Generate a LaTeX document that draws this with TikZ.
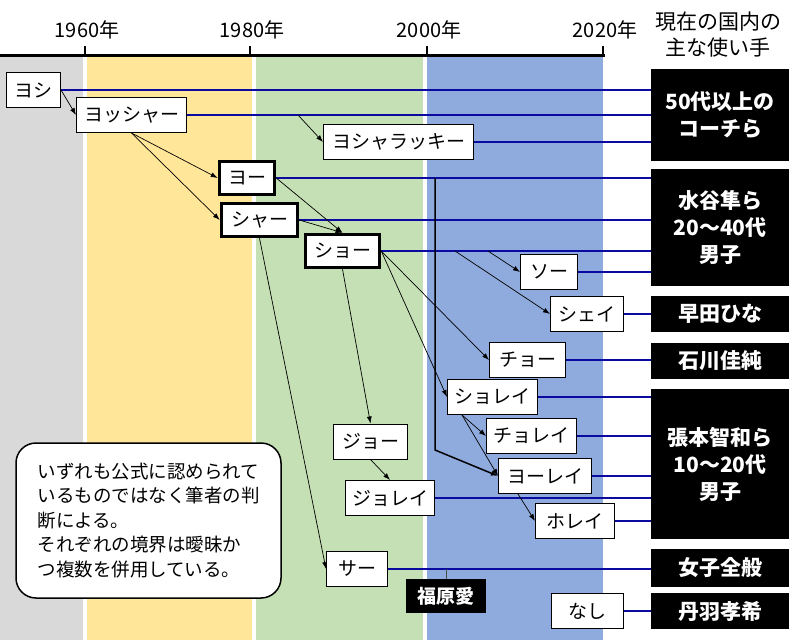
\documentclass[tikz,border=0pt]{standalone}
\usepackage{fontspec}
\setmainfont{Noto Sans CJK JP}
\usetikzlibrary{arrows.meta}
\definecolor{bandgray}{HTML}{D9D9D9}
\definecolor{bandgold}{HTML}{FFE699}
\definecolor{bandgreen}{HTML}{C5E0B4}
\definecolor{bandblue}{HTML}{8FAADC}
\definecolor{linkblue}{HTML}{0A0AA0}
\begin{document}
\begin{tikzpicture}
[x=1pt,y=-1pt,
  namedecorate/.style={shape=rectangle,draw,fill=white,line width=1pt,minimum height=35pt,inner xsep=6pt,font=\fontsize{19}{23}\selectfont},
  keydecorate/.style={namedecorate,line width=3.5pt,minimum height=33pt},
  userdecorate/.style={shape=rectangle,fill=black,text=white,minimum width=138pt,align=center,font=\bfseries\fontsize{21}{27}\selectfont},
  notedecorate/.style={shape=rectangle,draw,fill=white,line width=1.5pt,rounded corners=20pt,minimum width=265pt,minimum height=155pt,align=left,font=\fontsize{18.5}{24.5}\selectfont},
  yeardecorate/.style={font=\fontsize{20}{24}\selectfont},
  linedecorate/.style={-{Latex[length=7pt,width=5pt]},line width=0.7pt},
  bluedecorate/.style={-,linkblue,line width=2pt}]
\useasboundingbox[fill=white] (0,0) rectangle (800,640);
%% eras
\fill[bandgray] (0,57) rectangle (83,640);
\fill[bandgold] (87,57) rectangle (252,640);
\fill[bandgreen] (256,57) rectangle (423,640);
\fill[bandblue] (427,57) rectangle (603,640);
%% time axis
\draw[line width=3pt] (0,55) -- (605,55);
\foreach \yr/\x in {1960/85, 1980/250, 2000/427, 2020/603} {
  \node (y\yr) at (\x+2,30) [yeardecorate] {\yr 年};
  \draw[line width=2.5pt] (\x,46) -- (\x,55);
}
\node (usertitle) at (718,35) [align=center,font=\fontsize{21}{26}\selectfont] {現在の国内の\\主な使い手};
%% players of today
\node (coach) at (720,115) [userdecorate,minimum height=92pt] {50代以上の\\コーチら};
\node (mizutani) at (720,227.5) [userdecorate,minimum height=117pt] {水谷隼ら\\20～40代\\男子};
\node (hayata) at (720,314) [userdecorate,minimum height=36pt] {早田ひな};
\node (ishikawa) at (720,361) [userdecorate,minimum height=36pt] {石川佳純};
\node (harimoto) at (720,464) [userdecorate,minimum height=150pt] {張本智和ら\\10～20代\\男子};
\node (joshi) at (720,568) [userdecorate,minimum height=38pt] {女子全般};
\node (niwa) at (720,611) [userdecorate,minimum height=36pt] {丹羽孝希};
\node (fukuhara) at (446,596) [userdecorate,minimum width=80pt,minimum height=34pt,font=\bfseries\fontsize{19}{23}\selectfont] {福原愛};
%% shouts
\foreach \nodename/\x/\y/\w/\word in {yoshi/33.5/90/54/ヨシ, yosshaa/131.5/115/110/ヨッシャー,
    lucky/398.5/142/150/ヨシャラッキー, soo/549/272/57/ソー, shei/587/314/73/シェイ,
    choo/527.5/360/76/チョー, shorei/492.5/397/90/ショレイ, chorei/531.5/436/90/チョレイ,
    yoorei/545/476/93/ヨーレイ, horei/575/521/79/ホレイ, joo/370.5/441.5/74/ジョー,
    jorei/390/498/89/ジョレイ, saa/357/569/61/サー, nashi/587.5/611/72/なし} {
  \node (\nodename) at (\x,\y) [namedecorate,minimum width=\w pt] {\word};
}
\foreach \nodename/\x/\y/\w/\word in {yoo/247/178/55/ヨー, shaa/259.5/220/76/シャー, shoo/342.5/251/74/ショー} {
  \node (\nodename) at (\x,\y) [keydecorate,minimum width=\w pt] {\word};
}
\node (note) at (148.5,520.5) [notedecorate] {いずれも公式に認められて\\いるものではなく筆者の判\\断による。\\それぞれの境界は曖昧か\\つ複数を併用している。};
%% lines to players
\foreach \src/\dst in {yoshi/coach, yosshaa/coach, lucky/coach, yoo/mizutani, shaa/mizutani,
    shoo/mizutani, soo/mizutani, shei/hayata, choo/ishikawa, shorei/harimoto, chorei/harimoto,
    yoorei/harimoto, jorei/harimoto, horei/harimoto, saa/joshi, nashi/niwa} {
  \draw[bluedecorate] (\src.east) -- (\src.east -| \dst.west);
}
\draw[black!70,line width=0.8pt] (fukuhara.north |- saa.east) -- (fukuhara.north);
%% forks
\coordinate (luckyfork) at (298,0 |- yosshaa.east);
\coordinate (sheifork) at (455,0 |- shoo.east);
\coordinate (soofork) at (488,0 |- shoo.east);
\coordinate (yoofork) at (435,0 |- yoo.east);
\coordinate (yoobend) at (435,450);
\coordinate (shoreifoot) at ([xshift=15pt]shorei.south west);
\coordinate (yooreifoot) at ([xshift=20pt]yoorei.south west);
%% derivations
\path
(yoshi.east) edge[linedecorate] (yosshaa.west)
(yosshaa.south) edge[linedecorate] (yoo.west)
(yosshaa.south) edge[linedecorate] (shaa.west)
(luckyfork) edge[linedecorate] (lucky.west)
(yoo.east) edge[linedecorate] (shoo.north)
(shaa.east) edge[linedecorate] (shoo.north)
(shaa.south) edge[linedecorate] (saa.west)
(shoo.south) edge[linedecorate] (joo.north)
(joo.south) edge[linedecorate] (jorei.north)
(shoo.east) edge[linedecorate] (choo.west)
(shoo.east) edge[linedecorate] (shorei.west)
(sheifork) edge[linedecorate] (shei.west)
(soofork) edge[linedecorate] (soo.west)
(shoreifoot) edge[linedecorate] (chorei.west)
(shoreifoot) edge[linedecorate] (yoorei.west)
(yooreifoot) edge[linedecorate] (horei.west);
\draw[linedecorate,line width=1.5pt] (yoofork) -- (yoobend) -- (yoorei.west);
\end{tikzpicture}
\end{document}
